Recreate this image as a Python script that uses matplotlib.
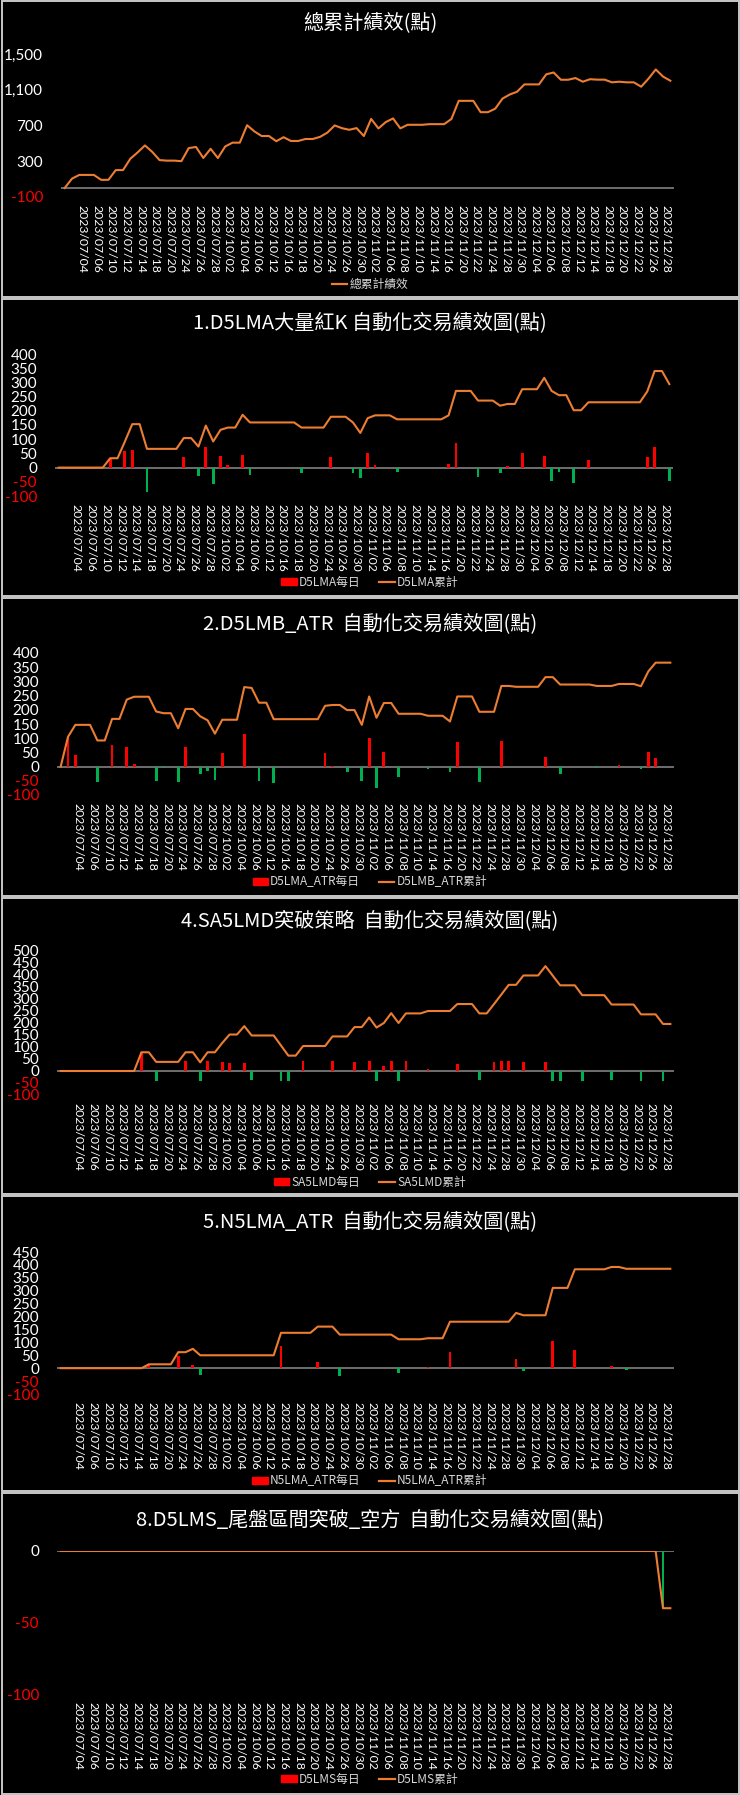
import matplotlib
matplotlib.use('Agg')
import matplotlib.pyplot as plt
from matplotlib.patches import Patch, Rectangle
from matplotlib.lines import Line2D
from matplotlib.transforms import ScaledTranslation

plt.rcParams['font.family'] = ['Noto Sans CJK TC', 'DejaVu Sans']

# every second trading day gets a label (category 2, 4, ... 82)
date_labels = ['2023/07/04', '2023/07/06', '2023/07/10', '2023/07/12', '2023/07/14',
               '2023/07/18', '2023/07/20', '2023/07/24', '2023/07/26', '2023/07/28',
               '2023/10/02', '2023/10/04', '2023/10/06', '2023/10/12', '2023/10/16',
               '2023/10/18', '2023/10/20', '2023/10/24', '2023/10/26', '2023/10/30',
               '2023/11/02', '2023/11/06', '2023/11/08', '2023/11/10', '2023/11/14',
               '2023/11/16', '2023/11/20', '2023/11/22', '2023/11/24', '2023/11/28',
               '2023/11/30', '2023/12/04', '2023/12/06', '2023/12/08', '2023/12/12',
               '2023/12/14', '2023/12/18', '2023/12/20', '2023/12/22', '2023/12/26',
               '2023/12/28']
n_days = 84

total_cum = [0, 105, 147, 147, 147, 92, 92, 201, 201, 328,
             399, 477, 405, 313, 307, 307, 301, 447, 460, 337,
             439, 336, 465, 508, 508, 703, 634, 582, 582, 524,
             569, 527, 527, 549, 549, 573, 620, 701, 670, 652,
             671, 582, 774, 667, 738, 779, 668, 708, 708, 708,
             715, 715, 715, 773, 976, 976, 976, 849, 849, 888,
             1001, 1047, 1078, 1160, 1160, 1160, 1273, 1293, 1212, 1212,
             1231, 1190, 1218, 1213, 1213, 1183, 1190, 1183, 1183, 1134,
             1224, 1327, 1247, 1201]

d5lma_daily = [0, 0, 0, 0, 0, 0, 0, 33, 0, 59,
               61, 0, -87, 0, 0, 0, 0, 38, 0, -30,
               74, -56, 41, 8, 0, 45, -27, 0, 0, 0,
               0, 0, 0, -18, 0, 0, 0, 38, 0, 0,
               -20, -37, 52, 10, 0, 0, -14, 0, 0, 0,
               0, 0, 0, 14, 86, 0, 0, -34, 0, 0,
               -18, 6, 0, 52, 0, 0, 40, -46, -15, 0,
               -53, 0, 28, 0, 0, 0, 0, 0, 0, 0,
               38, 72, 0, -46]
d5lma_cum = [0, 0, 0, 0, 0, 0, 0, 33, 33, 92,
             153, 153, 66, 66, 66, 66, 66, 104, 104, 74,
             148, 92, 133, 141, 141, 186, 159, 159, 159, 159,
             159, 159, 159, 141, 141, 141, 141, 179, 179, 179,
             159, 122, 174, 184, 184, 184, 170, 170, 170, 170,
             170, 170, 170, 184, 270, 270, 270, 236, 236, 236,
             218, 224, 224, 276, 276, 276, 316, 270, 255, 255,
             202, 202, 230, 230, 230, 230, 230, 230, 230, 230,
             268, 340, 340, 294]

d5lmb_daily = [0, 105, 42, 0, 0, -55, 0, 76, 0, 68,
               10, 0, 0, -52, -6, 0, -53, 68, 0, -26,
               -14, -47, 49, 0, 0, 115, -3, -52, 0, -58,
               0, 0, 0, 0, 0, 0, 47, 3, 0, -18,
               0, -52, 100, -75, 52, 0, -38, 0, 0, 0,
               -7, 0, 0, -20, 88, 0, 0, -54, 0, 0,
               91, 0, -3, 0, 0, 0, 34, 0, -26, 0,
               0, 0, 0, -5, 0, 0, 7, 0, 0, -8,
               52, 31, 0, 0]
d5lmb_cum = [0, 105, 147, 147, 147, 92, 92, 168, 168, 236,
             246, 246, 246, 194, 188, 188, 135, 203, 203, 177,
             163, 116, 165, 165, 165, 280, 277, 225, 225, 167,
             167, 167, 167, 167, 167, 167, 214, 217, 217, 199,
             199, 147, 247, 172, 224, 224, 186, 186, 186, 186,
             179, 179, 179, 159, 247, 247, 247, 193, 193, 193,
             284, 284, 281, 281, 281, 281, 315, 315, 289, 289,
             289, 289, 289, 284, 284, 284, 291, 291, 291, 283,
             335, 366, 366, 366]

sa5lmd_daily = [0, 0, 0, 0, 0, 0, 0, 0, 0, 0,
                0, 78, 0, -40, 0, 0, 0, 40, 0, -42,
                42, 0, 39, 35, 0, 35, -39, 0, 0, 0,
                -42, -42, 0, 40, 0, 0, 0, 40, 0, 0,
                39, 0, 40, -42, 19, 41, -41, 40, 0, 0,
                10, 0, 0, 0, 29, 0, 0, -39, 0, 39,
                40, 40, 0, 39, 0, 0, 39, -40, -40, 0,
                0, -41, 0, 0, 0, -39, 0, 0, 0, -41,
                0, 0, -40, 0]
sa5lmd_cum = [0, 0, 0, 0, 0, 0, 0, 0, 0, 0,
              0, 78, 78, 38, 38, 38, 38, 78, 78, 36,
              78, 78, 117, 152, 152, 187, 148, 148, 148, 148,
              106, 64, 64, 104, 104, 104, 104, 144, 144, 144,
              183, 183, 223, 181, 200, 241, 200, 240, 240, 240,
              250, 250, 250, 250, 279, 279, 279, 240, 240, 279,
              319, 359, 359, 398, 398, 398, 437, 397, 357, 357,
              357, 316, 316, 316, 316, 277, 277, 277, 277, 236,
              236, 236, 196, 196]

n5lma_daily = [0, 0, 0, 0, 0, 0, 0, 0, 0, 0,
               0, 0, 15, 0, 0, 0, 47, 0, 13, -25,
               0, 0, 0, 0, 0, 0, 0, 0, 0, 0,
               87, 0, 0, 0, 0, 24, 0, 0, -31, 0,
               0, 0, 0, 0, 0, 0, -18, 0, 0, 0,
               4, 0, 0, 64, 0, 0, 0, 0, 0, 0,
               0, 0, 34, -9, 0, 0, 0, 106, 0, 0,
               72, 0, 0, 0, 0, 9, 0, -7, 0, 0,
               0, 0, 0, 0]
n5lma_cum = [0, 0, 0, 0, 0, 0, 0, 0, 0, 0,
             0, 0, 15, 15, 15, 15, 62, 62, 75, 50,
             50, 50, 50, 50, 50, 50, 50, 50, 50, 50,
             137, 137, 137, 137, 137, 161, 161, 161, 130, 130,
             130, 130, 130, 130, 130, 130, 112, 112, 112, 112,
             116, 116, 116, 180, 180, 180, 180, 180, 180, 180,
             180, 180, 214, 205, 205, 205, 205, 311, 311, 311,
             383, 383, 383, 383, 383, 392, 392, 385, 385, 385,
             385, 385, 385, 385]

d5lms_daily = [0] * 82 + [-40, 0]
d5lms_cum = [0] * 82 + [-40, -40]

W, H = 740, 1795
ORANGE = '#ED7D31'
RED = '#FF0000'
GREEN = '#00B050'

fig = plt.figure(figsize=(W / 100, H / 100), dpi=100, facecolor='black')

# panel frames
for y0, y1 in [(0, 298), (298, 597), (597, 897), (897, 1195), (1195, 1492), (1492, 1795)]:
    fig.add_artist(Rectangle((1.5 / W, 1 - (y1 - 1) / H), (W - 3) / W, (y1 - y0 - 2) / H,
                             transform=fig.transFigure, fill=False,
                             edgecolor='#c8c8c8', lw=1.4))


def add_panel(top, bottom, left, right, ylim, yticks, title, title_y, legend_y,
              cum, cum_name, daily=None, daily_name=None, comma=False):
    ax = fig.add_axes([left / W, 1 - bottom / H, (right - left) / W, (bottom - top) / H])
    ax.set_facecolor('black')
    x = list(range(n_days))
    ax.axhline(0, color='#8c8c8c', lw=1.1, zorder=1)
    handles, labels = [], []
    if daily is not None:
        colors = [RED if v >= 0 else GREEN for v in daily]
        ax.bar(x, daily, width=0.38, color=colors, zorder=2)
        handles.append(Patch(color=RED))
        labels.append(daily_name)
    ax.plot(x, cum, color=ORANGE, lw=1.5, zorder=3)
    handles.append(Line2D([], [], color=ORANGE, lw=1.6))
    labels.append(cum_name)

    ax.set_xlim(-0.5, n_days - 0.5)
    ax.set_ylim(*ylim)
    for s in ax.spines.values():
        s.set_visible(False)

    ax.set_yticks(yticks)
    ax.set_yticklabels([f'{v:,}' if comma else str(v) for v in yticks],
                       family=['Lato', 'DejaVu Sans'], fontsize=11)
    for lab, v in zip(ax.get_yticklabels(), yticks):
        lab.set_color(RED if v < 0 else 'white')
    ax.tick_params(axis='y', length=0, pad=13)

    ax.set_xticks(range(2, 83, 2))
    ax.set_xticklabels(date_labels, rotation=-90, family=['Lato', 'DejaVu Sans'],
                       fontsize=8.8, color='white')
    ax.tick_params(axis='x', length=0, pad=6)
    shift = ScaledTranslation(0.03, 0, fig.dpi_scale_trans)
    for lab in ax.get_xticklabels():
        lab.set_transform(lab.get_transform() + shift)

    fig.text(370 / W, 1 - title_y / H, title, ha='center', va='center',
             fontsize=14.5, color='white')
    ax.legend(handles, labels, loc='center', bbox_to_anchor=(370 / W, 1 - legend_y / H),
              bbox_transform=fig.transFigure, ncol=2, frameon=False, fontsize=8.5,
              labelcolor='#d9d9d9', handlelength=1.3, handleheight=0.6,
              handletextpad=0.2, columnspacing=1.6)
    return ax


add_panel(54, 197, 61, 674, (-100, 1500), [-100, 300, 700, 1100, 1500],
          '總累計績效(點)', 23, 284, total_cum, '總累計績效', comma=True)
add_panel(354, 496, 55, 673, (-100, 400), list(range(-100, 401, 50)),
          '1.D5LMA大量紅K 自動化交易績效圖(點)', 323, 582,
          d5lma_cum, 'D5LMA累計', d5lma_daily, 'D5LMA每日')
add_panel(653, 795, 57, 674, (-100, 400), list(range(-100, 401, 50)),
          '2.D5LMB_ATR  自動化交易績效圖(點)', 624, 882,
          d5lmb_cum, 'D5LMB_ATR累計', d5lmb_daily, 'D5LMA_ATR每日')
add_panel(951, 1095, 57, 674, (-100, 500), list(range(-100, 501, 50)),
          '4.SA5LMD突破策略  自動化交易績效圖(點)', 922, 1182,
          sa5lmd_cum, 'SA5LMD累計', sa5lmd_daily, 'SA5LMD每日')
add_panel(1252, 1394, 57, 674, (-100, 450), list(range(-100, 451, 50)),
          '5.N5LMA_ATR  自動化交易績效圖(點)', 1222, 1481,
          n5lma_cum, 'N5LMA_ATR累計', n5lma_daily, 'N5LMA_ATR每日')
add_panel(1551, 1694, 57, 674, (-100, 0), [-100, -50, 0],
          '8.D5LMS_尾盤區間突破_空方  自動化交易績效圖(點)', 1520, 1779,
          d5lms_cum, 'D5LMS累計', d5lms_daily, 'D5LMS每日')

fig.savefig('out.png', dpi=100, facecolor='black')
